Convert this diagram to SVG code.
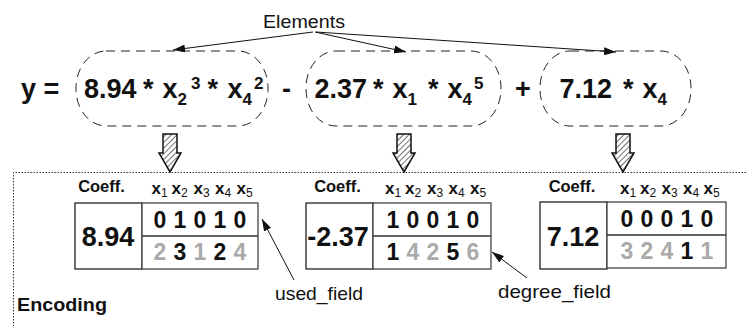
<svg xmlns="http://www.w3.org/2000/svg" width="746" height="326" viewBox="0 0 746 326">
<style>
  .eq { font-family: "Liberation Sans", Arial, sans-serif; font-weight: bold; font-size: 27px; fill: #111; }
  .ss { font-family: "Liberation Sans", Arial, sans-serif; font-weight: bold; font-size: 17px; fill: #111; }
  .lbl { font-family: "Liberation Sans", Arial, sans-serif; font-size: 19px; fill: #111; }
  .hd { font-family: "Liberation Sans", Arial, sans-serif; font-weight: bold; font-size: 16.5px; fill: #111; }
  .xv { font-family: "Liberation Sans", Arial, sans-serif; font-weight: bold; font-size: 17px; fill: #111; }
  .xs { font-family: "Liberation Sans", Arial, sans-serif; font-size: 12px; fill: #111; }
  .cf { font-family: "Liberation Sans", Arial, sans-serif; font-weight: bold; font-size: 27px; fill: #111; text-anchor: middle; }
  .dg { font-family: "Liberation Sans", Arial, sans-serif; font-weight: bold; font-size: 23px; fill: #111; text-anchor: middle; }
  .dg.g { fill: #aaaaaa; }
  .dash { fill: none; stroke: #222; stroke-width: 1; stroke-dasharray: 9 6; }
  .box { fill: #fff; stroke: #222; stroke-width: 1.3; }
  .fbox { fill: #fff; stroke: #444; stroke-width: 1.3; }
  .conn { fill: none; stroke: #111; stroke-width: 1; }
  .hatch { fill: url(#hatch); stroke: #111; stroke-width: 1.5; stroke-linejoin: miter; }
  .frame { fill: none; stroke: #333; stroke-width: 1; stroke-dasharray: 1.5 1.5; }
</style>
<defs>
  <marker id="ah" viewBox="0 0 12 8" refX="12" refY="4" markerWidth="12" markerHeight="8" markerUnits="userSpaceOnUse" orient="auto">
    <path d="M0,0 L12,4 L0,8 Z" fill="#111"/>
  </marker>
  <pattern id="hatch" width="4" height="4" patternUnits="userSpaceOnUse" patternTransform="rotate(45)">
    <rect width="4" height="4" fill="#fff"/>
    <line x1="0" y1="0" x2="0" y2="4" stroke="#111" stroke-width="1.2"/>
  </pattern>
</defs>
<rect width="746" height="326" fill="#fff"/>

<g id="encoding-frame">
  <path class="frame" d="M746,172.5 H13.5 V326"/>
  <text x="17" y="311" font-family="Liberation Sans, Arial, sans-serif" font-weight="bold" font-size="18" fill="#111" textLength="90" lengthAdjust="spacingAndGlyphs">Encoding</text>
</g>

<g id="label-elements">
  <text class="lbl" x="263" y="28" textLength="82" lengthAdjust="spacingAndGlyphs">Elements</text>
</g>

<g id="eq-y">
  <text class="eq" x="21" y="98">y =</text>
</g>

<g id="term1">
  <rect class="dash" x="76" y="51" width="192" height="75" rx="30" ry="37"/>
  <text class="eq" x="84" y="98">8.94</text>
  <text class="eq" x="143" y="98">*</text>
  <text class="eq" x="162.5" y="98">x</text>
  <text class="ss" x="177.5" y="105">2</text>
  <text class="ss" x="191" y="89">3</text>
  <text class="eq" x="207.5" y="98">*</text>
  <text class="eq" x="227.5" y="98">x</text>
  <text class="ss" x="242.5" y="105">4</text>
  <text class="ss" x="254" y="89">2</text>
</g>

<g id="op-minus">
  <text class="eq" x="282" y="98">-</text>
</g>

<g id="term2">
  <rect class="dash" x="306" y="51" width="195" height="75" rx="30" ry="37"/>
  <text class="eq" x="314.5" y="98">2.37</text>
  <text class="eq" x="373" y="98">*</text>
  <text class="eq" x="392.5" y="98">x</text>
  <text class="ss" x="407.5" y="105">1</text>
  <text class="eq" x="428" y="98">*</text>
  <text class="eq" x="447.5" y="98">x</text>
  <text class="ss" x="462.5" y="105">4</text>
  <text class="ss" x="474" y="89">5</text>
</g>

<g id="op-plus">
  <text class="eq" x="515" y="98">+</text>
</g>

<g id="term3">
  <rect class="dash" x="540" y="51" width="151" height="75" rx="30" ry="37"/>
  <text class="eq" x="559.5" y="98">7.12</text>
  <text class="eq" x="623" y="98">*</text>
  <text class="eq" x="642.5" y="98">x</text>
  <text class="ss" x="657.5" y="105">4</text>
</g>

<g id="block1">
  <text class="hd" x="101.5" y="192" text-anchor="middle">Coeff.</text>
  <g transform="translate(140.5,0)">
    <text class="xv" x="11" y="194">x</text><text class="xs" x="20.5" y="197">1</text>
    <text class="xv" x="31" y="194">x</text><text class="xs" x="40.5" y="197">2</text>
    <text class="xv" x="53" y="194">x</text><text class="xs" x="62.5" y="197">3</text>
    <text class="xv" x="74.5" y="194">x</text><text class="xs" x="84" y="197">4</text>
    <text class="xv" x="96" y="194">x</text><text class="xs" x="105.5" y="197">5</text>
  </g>
  <rect class="box" x="75" y="203" width="67" height="66"/>
  <rect class="fbox" x="142" y="203" width="116" height="66"/>
  <line x1="142" y1="236" x2="258" y2="236" stroke="#333" stroke-width="1.3"/>
  <text class="cf" x="108" y="246">8.94</text>
  <g transform="translate(200,0)">
    <text class="dg" x="-40" y="228">0</text><text class="dg" x="-20" y="228">1</text><text class="dg" x="0" y="228">0</text><text class="dg" x="20" y="228">1</text><text class="dg" x="40" y="228">0</text>
    <text class="dg g" x="-40" y="260">2</text><text class="dg" x="-20" y="260">3</text><text class="dg g" x="0" y="260">1</text><text class="dg" x="20" y="260">2</text><text class="dg g" x="40" y="260">4</text>
  </g>
</g>

<g id="block2">
  <text class="hd" x="337.5" y="192" text-anchor="middle">Coeff.</text>
  <g transform="translate(373,0)">
    <text class="xv" x="12" y="194">x</text><text class="xs" x="21.5" y="197">1</text>
    <text class="xv" x="32" y="194">x</text><text class="xs" x="41.5" y="197">2</text>
    <text class="xv" x="54" y="194">x</text><text class="xs" x="63.5" y="197">3</text>
    <text class="xv" x="75.5" y="194">x</text><text class="xs" x="85" y="197">4</text>
    <text class="xv" x="97" y="194">x</text><text class="xs" x="106.5" y="197">5</text>
  </g>
  <rect class="box" x="306" y="203" width="67" height="66"/>
  <rect class="fbox" x="373" y="203" width="118" height="66"/>
  <line x1="373" y1="236" x2="491" y2="236" stroke="#333" stroke-width="1.3"/>
  <text class="cf" x="338" y="246">-2.37</text>
  <g transform="translate(433,0)">
    <text class="dg" x="-40" y="228">1</text><text class="dg" x="-20" y="228">0</text><text class="dg" x="0" y="228">0</text><text class="dg" x="20" y="228">1</text><text class="dg" x="40" y="228">0</text>
    <text class="dg" x="-40" y="260">1</text><text class="dg g" x="-20" y="260">4</text><text class="dg g" x="0" y="260">2</text><text class="dg" x="20" y="260">5</text><text class="dg g" x="40" y="260">6</text>
  </g>
</g>

<g id="block3">
  <text class="hd" x="572" y="192" text-anchor="middle">Coeff.</text>
  <g transform="translate(607,0)">
    <text class="xv" x="13" y="194">x</text><text class="xs" x="22.5" y="197">1</text>
    <text class="xv" x="33" y="194">x</text><text class="xs" x="42.5" y="197">2</text>
    <text class="xv" x="54.5" y="194">x</text><text class="xs" x="64" y="197">3</text>
    <text class="xv" x="76" y="194">x</text><text class="xs" x="85.5" y="197">4</text>
    <text class="xv" x="96.5" y="194">x</text><text class="xs" x="106" y="197">5</text>
  </g>
  <rect class="box" x="540" y="202" width="67" height="67"/>
  <rect class="fbox" x="607" y="202" width="119" height="66"/>
  <line x1="607" y1="235" x2="726" y2="235" stroke="#333" stroke-width="1.3"/>
  <text class="cf" x="573" y="246">7.12</text>
  <g transform="translate(667,0)">
    <text class="dg" x="-40" y="227">0</text><text class="dg" x="-20" y="227">0</text><text class="dg" x="0" y="227">0</text><text class="dg" x="20" y="227">1</text><text class="dg" x="40" y="227">0</text>
    <text class="dg g" x="-40" y="259">3</text><text class="dg g" x="-20" y="259">2</text><text class="dg g" x="0" y="259">4</text><text class="dg" x="20" y="259">1</text><text class="dg g" x="40" y="259">1</text>
  </g>
</g>

<g id="label-used">
  <text class="lbl" x="275" y="300" textLength="88" lengthAdjust="spacingAndGlyphs">used_field</text>
</g>
<g id="label-degree">
  <text class="lbl" x="498" y="298" textLength="113" lengthAdjust="spacingAndGlyphs">degree_field</text>
</g>

<g id="connectors">
  <line class="conn" x1="313" y1="32" x2="173" y2="50" marker-end="url(#ah)"/>
  <line class="conn" x1="315" y1="32" x2="406" y2="52" marker-end="url(#ah)"/>
  <line class="conn" x1="316" y1="32" x2="616" y2="52" marker-end="url(#ah)"/>
  <path class="hatch" d="M163,134 H177 V153 H181 L170,172 L159,153 H163 Z"/>
  <path class="hatch" d="M397,134 H411 V153 H415 L404,172 L393,153 H397 Z"/>
  <path class="hatch" d="M616,134 H630 V153 H634 L623,172 L612,153 H616 Z"/>
  <line class="conn" x1="294" y1="280" x2="262" y2="219" marker-end="url(#ah)"/>
  <line class="conn" x1="527" y1="278" x2="492" y2="252" marker-end="url(#ah)"/>
</g>
</svg>
